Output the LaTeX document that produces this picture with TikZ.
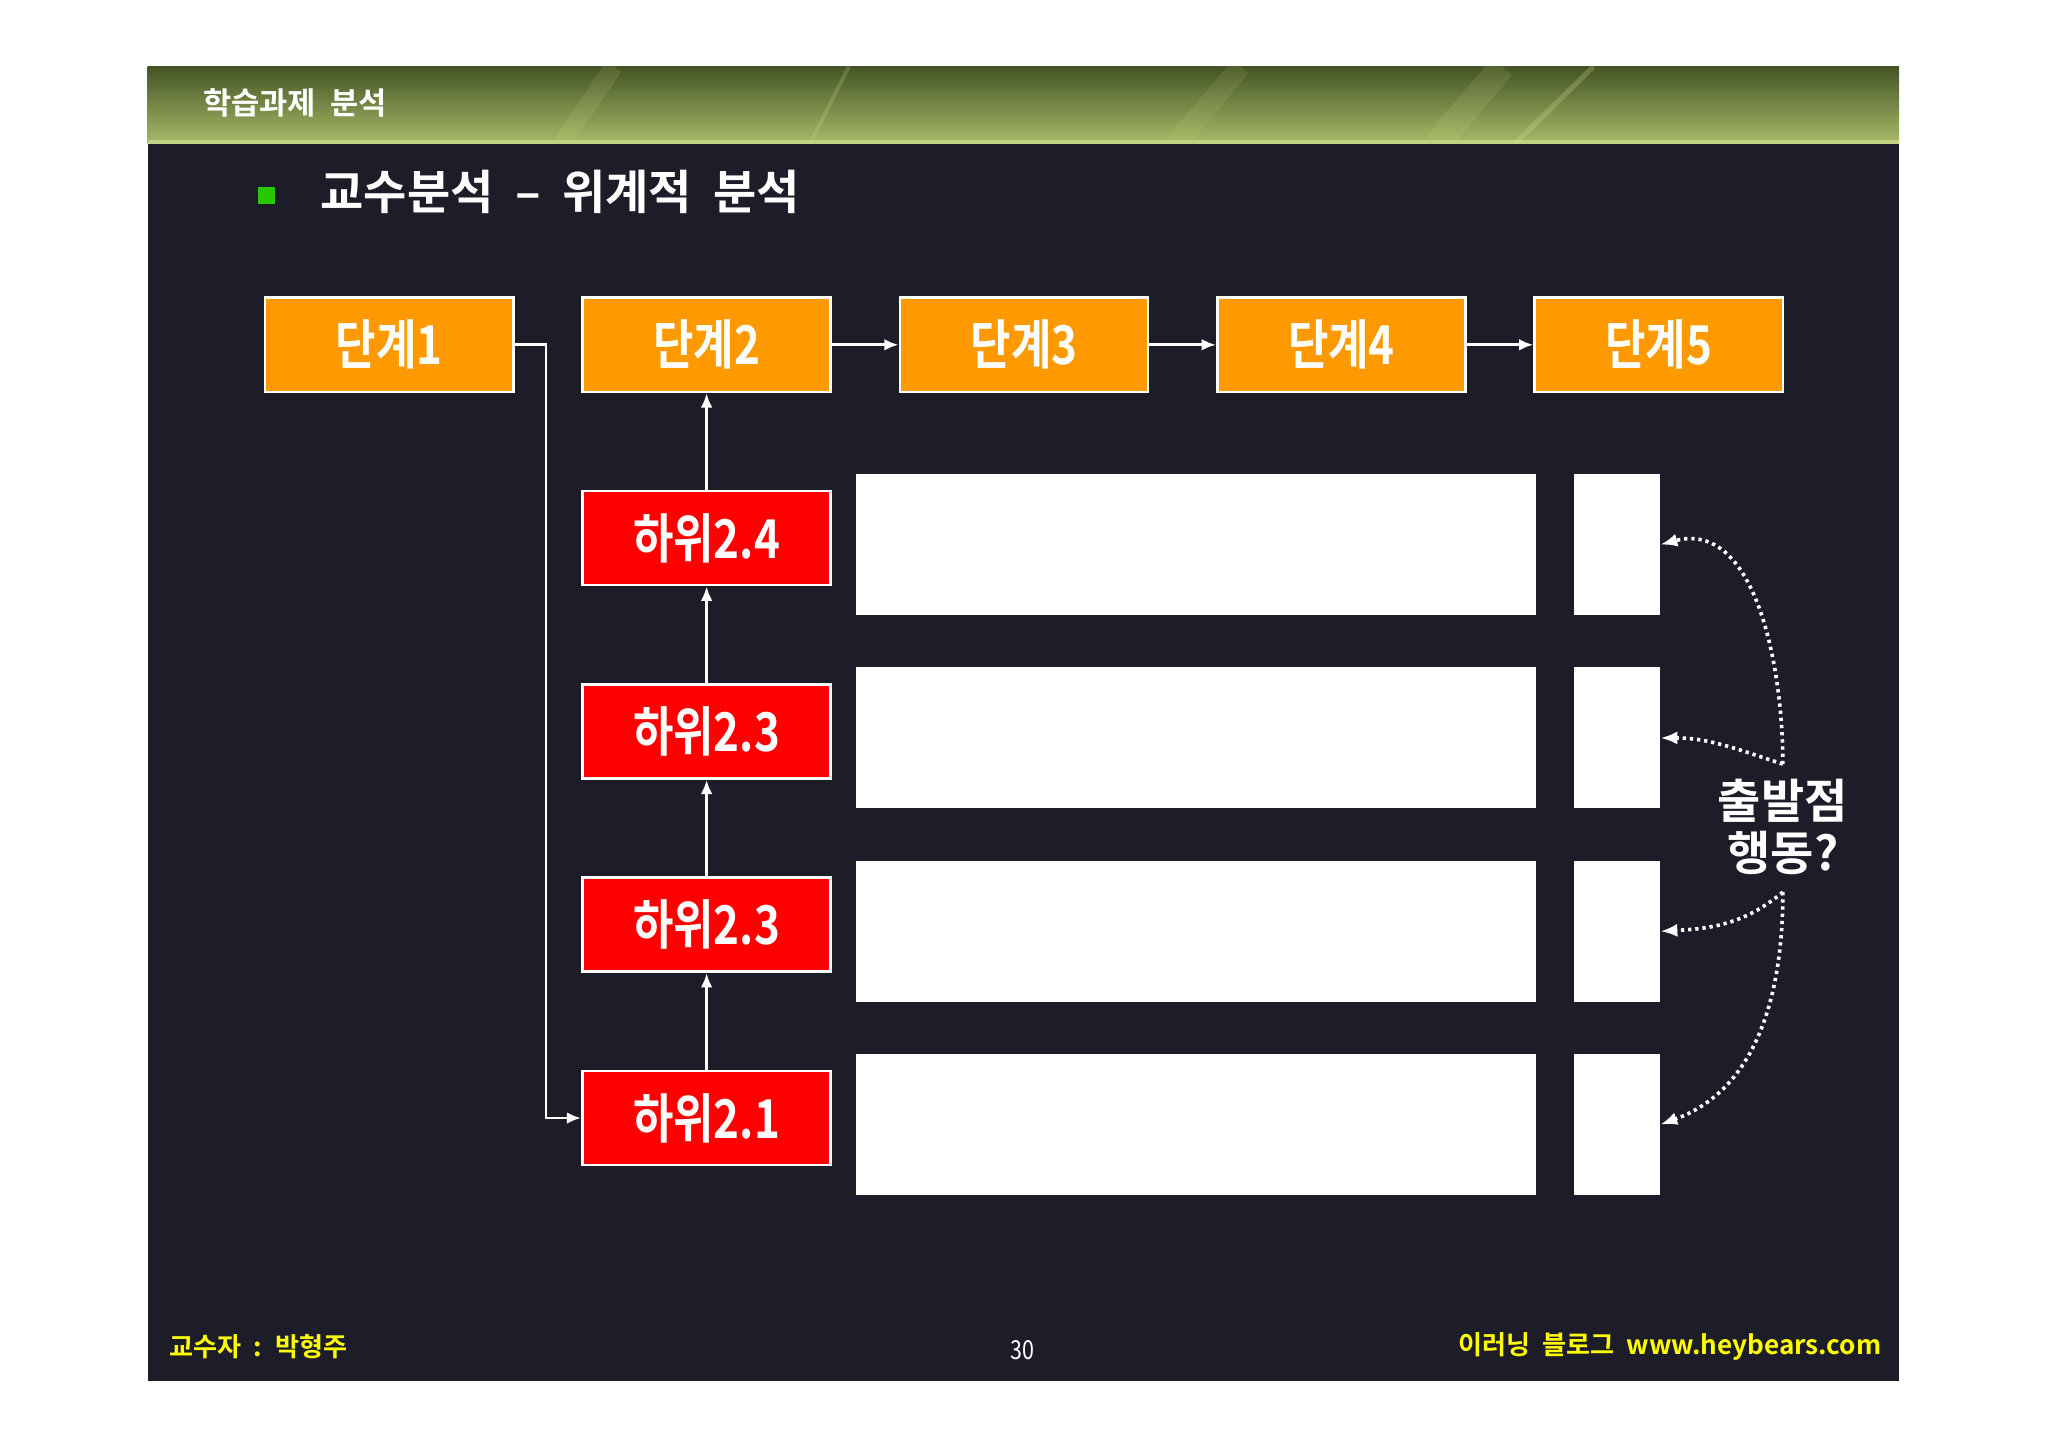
\documentclass[tikz,border=0pt]{standalone}
\usepackage{fontspec}
\usepackage{tikz}
\usetikzlibrary{arrows.meta}

\newfontfamily\krfont{Noto Sans CJK KR}[BoldFont={Noto Sans CJK KR Bold}, WordSpace=2]
\newfontfamily\krnarrow{Noto Sans CJK KR}[BoldFont={Noto Sans CJK KR Bold}, FakeStretch=0.82]

\definecolor{slidebg}{RGB}{28,29,41}
\definecolor{stepor}{RGB}{255,153,0}
\definecolor{subred}{RGB}{255,0,0}
\definecolor{footyel}{RGB}{255,255,0}
\definecolor{bulletgr}{RGB}{40,200,0}
\definecolor{hdrtop}{RGB}{68,84,36}
\definecolor{hdrmid}{RGB}{118,140,58}
\definecolor{hdrbot}{RGB}{168,186,104}
\definecolor{hdrlight}{RGB}{214,226,150}

\begin{document}
\begin{tikzpicture}[x = 1pt, y = 1pt,
    stepbox/.style = {draw = white, line width = 2pt, fill = stepor, minimum width = 190pt, minimum height = 72pt, text = white, font = \krnarrow\bfseries\fontsize{41}{44}\selectfont},
    subbox/.style = {stepbox, fill = subred},
    blank/.style = {fill = white, draw = none, minimum height = 108pt, inner sep = 0pt},
    link/.style = {draw = white, line width = 2.2pt, -{Latex[length = 11pt, width = 9pt]}},
    hint/.style = {draw = white, line width = 2.8pt, dash pattern = on 2.5pt off 3pt, -{Latex[length = 13pt, width = 10pt]}}]
    \useasboundingbox (0,0) rectangle (1568,1109);
    \fill[white] (0,0) rectangle (1568,1109);
    \fill[slidebg] (113,52) rectangle (1454,1058);
    % header band
    \shade[top color = hdrtop, middle color = hdrmid, bottom color = hdrbot] (113,999) rectangle (1454,1058);
    \begin{scope}
        \clip (113,999) rectangle (1454,1058);
        \draw[hdrlight, line width = 14pt, opacity = .12] (430,999) -- (470,1058);
        \draw[hdrlight, line width = 3pt, opacity = .2] (620,999) -- (650,1058);
        \draw[hdrlight, line width = 20pt, opacity = .12] (1100,999) -- (1150,1058);
        \draw[hdrlight, line width = 4pt, opacity = .25] (1160,999) -- (1220,1058);
        \draw[hdrlight, line width = 16pt, opacity = .1] (900,999) -- (950,1058);
        \fill[hdrlight, opacity = .6] (113,999) rectangle (1454,1002);
    \end{scope}
    \node[font = \krfont\bfseries\fontsize{23.5}{26}\selectfont, text = white, anchor = west] (T0) at (152,1030) {학습과제 분석};
    \node[fill = bulletgr, minimum size = 13pt, inner sep = 0pt] (B) at (204,959) {};
    \node[font = \krfont\bfseries\fontsize{36}{40}\selectfont, text = white, anchor = west] (T) at (242,962) {교수분석 – 위계적 분석};

    \node[stepbox] (S1) at (298,845) {단계1};
    \node[stepbox] (S2) at (541,845) {단계2};
    \node[stepbox] (S3) at (784,845) {단계3};
    \node[stepbox] (S4) at (1027,845) {단계4};
    \node[stepbox] (S5) at (1270,845) {단계5};

    \node[subbox] (H4) at (541,697) {하위2.4};
    \node[subbox] (H3) at (541,549) {하위2.3};
    \node[subbox] (H2) at (541,401) {하위2.3};
    \node[subbox] (H1) at (541,253) {하위2.1};

    \node[blank, minimum width = 521pt] (W4) at (915.5,692) {};
    \node[blank, minimum width = 521pt] (W3) at (915.5,544) {};
    \node[blank, minimum width = 521pt] (W2) at (915.5,396) {};
    \node[blank, minimum width = 521pt] (W1) at (915.5,248) {};
    \node[blank, minimum width = 66pt] (Q4) at (1238,692) {};
    \node[blank, minimum width = 66pt] (Q3) at (1238,544) {};
    \node[blank, minimum width = 66pt] (Q2) at (1238,396) {};
    \node[blank, minimum width = 66pt] (Q1) at (1238,248) {};

    \node[font = \krfont\bfseries\fontsize{36}{40}\selectfont, text = white, align = center] (L) at (1365,476) {출발점\\행동?};
    \coordinate (La) at (1365,524);
    \coordinate (Lb) at (1365,426);

    \draw[link] (S1.east) -- ++(24,0) |- (H1.west);
    \draw[link] (H1) -- (H2);
    \draw[link] (H2) -- (H3);
    \draw[link] (H3) -- (H4);
    \draw[link] (H4) -- (S2);
    \draw[link] (S2) -- (S3);
    \draw[link] (S3) -- (S4);
    \draw[link] (S4) -- (S5);

    \draw[hint] (La) to[out = 90, in = 15] (Q4.east);
    \draw[hint] (La) to[out = 162, in = 0] (Q3.east);
    \draw[hint] (Lb) to[out = -140, in = 3] (Q2.east);
    \draw[hint] (Lb) to[out = -90, in = 20] (Q1.east);

    % footer
    \node[font = \krfont\bfseries\fontsize{20}{24}\selectfont, text = footyel, anchor = west] (F1) at (126,78) {교수자 : 박형주};
    \node[font = \krnarrow\fontsize{20}{24}\selectfont, text = white] (F2) at (783,75) {30};
    \node[font = \krfont\bfseries\fontsize{20}{24}\selectfont, text = footyel, anchor = east] (F3) at (1444,78) {이러닝 블로그 www.heybears.com};
\end{tikzpicture}
\end{document}
